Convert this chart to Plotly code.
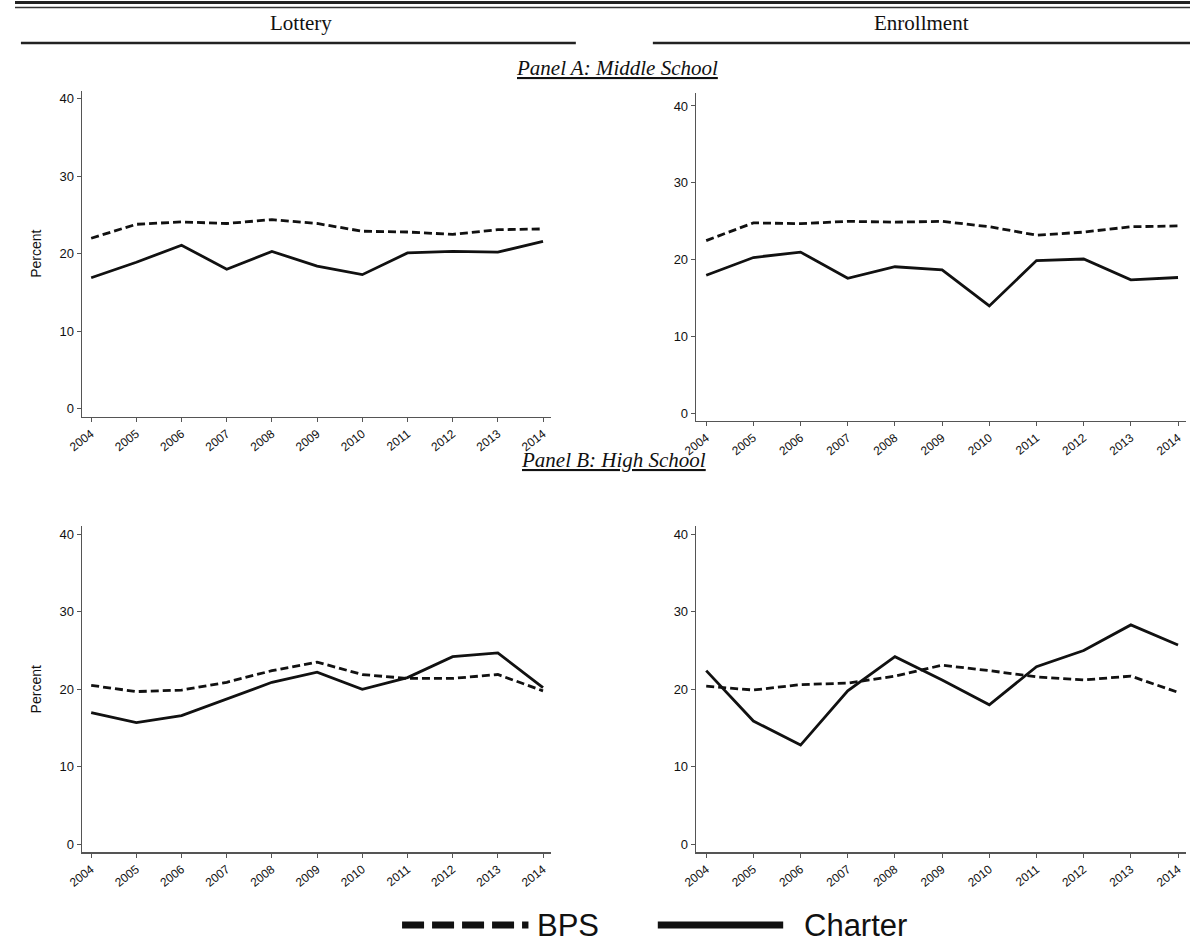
import plotly.graph_objects as go

years = [2004, 2005, 2006, 2007, 2008, 2009, 2010, 2011, 2012, 2013, 2014]
year_labels = [str(y) for y in years]

ms_lottery_bps = [22.0, 23.8, 24.1, 23.9, 24.4, 23.9, 22.9, 22.8, 22.5, 23.1, 23.2]
ms_lottery_charter = [16.9, 18.9, 21.1, 18.0, 20.3, 18.4, 17.3, 20.1, 20.3, 20.2, 21.6]
ms_enroll_bps = [22.5, 24.8, 24.7, 25.0, 24.9, 25.0, 24.3, 23.2, 23.6, 24.3, 24.4]
ms_enroll_charter = [18.0, 20.3, 21.0, 17.6, 19.1, 18.7, 14.0, 19.9, 20.1, 17.4, 17.7]
hs_lottery_bps = [20.5, 19.7, 19.9, 20.9, 22.4, 23.5, 21.9, 21.4, 21.4, 21.9, 19.8]
hs_lottery_charter = [17.0, 15.7, 16.6, 18.8, 20.9, 22.2, 20.0, 21.5, 24.2, 24.7, 20.2]
hs_enroll_bps = [20.4, 19.9, 20.6, 20.8, 21.7, 23.1, 22.4, 21.6, 21.2, 21.7, 19.6]
hs_enroll_charter = [22.4, 15.9, 12.8, 19.8, 24.2, 21.2, 18.0, 22.9, 25.0, 28.3, 25.7]

y_ticks = [0, 10, 20, 30, 40]
series_names = ["BPS", "Charter"]
col_titles = ["Lottery", "Enrollment"]
panel_titles = ["Panel A: Middle School", "Panel B: High School"]

W, H = 1190, 944


def fx(px):
    return px / W


def fy(py):
    return 1 - py / H


fig = go.Figure()

panels = [
    ("x", "y", ms_lottery_bps, ms_lottery_charter),
    ("x2", "y2", ms_enroll_bps, ms_enroll_charter),
    ("x3", "y3", hs_lottery_bps, hs_lottery_charter),
    ("x4", "y4", hs_enroll_bps, hs_enroll_charter),
]
for xa, ya, bps, charter in panels:
    fig.add_trace(go.Scatter(x=years, y=bps, mode="lines", name=series_names[0],
                             line=dict(color="#111111", width=2.8, dash="8px,4px"),
                             xaxis=xa, yaxis=ya, showlegend=False, hoverinfo="skip"))
    fig.add_trace(go.Scatter(x=years, y=charter, mode="lines", name=series_names[1],
                             line=dict(color="#111111", width=2.8),
                             xaxis=xa, yaxis=ya, showlegend=False, hoverinfo="skip"))

sans = "Arial, Liberation Sans, sans-serif"
tick_font = dict(family=sans, size=12, color="#111111")


def xax(domain, rng, anchor):
    return dict(domain=domain, range=rng, anchor=anchor, tickmode="array",
                tickvals=years, ticktext=year_labels, tickangle=-38,
                showline=True, linecolor="#555555", linewidth=1.6,
                ticks="outside", ticklen=4, tickwidth=1, tickcolor="#555555",
                showgrid=False, zeroline=False, tickfont=tick_font, fixedrange=True)


def yax(domain, rng, anchor, title=None):
    d = dict(domain=domain, range=rng, anchor=anchor, tickmode="array",
             tickvals=y_ticks, ticktext=[str(v) for v in y_ticks],
             showline=True, linecolor="#555555", linewidth=1.6,
             ticks="outside", ticklen=4, tickwidth=1, tickcolor="#555555",
             showgrid=False, zeroline=False,
             tickfont=dict(family=sans, size=13, color="#111111"),
             fixedrange=True)
    if title:
        d["title"] = dict(text=title, standoff=14,
                          font=dict(family=sans, size=14, color="#111111"))
    return d


left_x = [fx(68), fx(543)]
right_x = [fx(690), fx(1186)]
left_xr = [2003.8, 2014.18]
right_xr = [2003.79, 2014.17]

fig.update_layout(
    width=W, height=H,
    margin=dict(l=0, r=0, t=0, b=0),
    paper_bgcolor="white", plot_bgcolor="white",
    xaxis=xax(left_x, left_xr, "y"),
    yaxis=yax([fy(417), fy(91)], [-1, 41], "x", "Percent"),
    xaxis2=xax(right_x, right_xr, "y2"),
    yaxis2=yax([fy(421), fy(93)], [-0.9, 41.7], "x2"),
    xaxis3=xax(left_x, left_xr, "y3"),
    yaxis3=yax([fy(853), fy(527)], [-1, 41], "x3", "Percent"),
    xaxis4=xax(right_x, right_xr, "y4"),
    yaxis4=yax([fy(853), fy(527)], [-1, 41], "x4"),
)

shapes = []
# top double rule
shapes.append(dict(type="line", xref="paper", yref="paper", x0=0, x1=1, y0=fy(2.5), y1=fy(2.5),
                   line=dict(color="#222222", width=3)))
shapes.append(dict(type="line", xref="paper", yref="paper", x0=0, x1=1, y0=fy(7.5), y1=fy(7.5),
                   line=dict(color="#333333", width=1.5)))
# column underlines
shapes.append(dict(type="line", xref="paper", yref="paper", x0=fx(6), x1=fx(568), y0=fy(43), y1=fy(43),
                   line=dict(color="#222222", width=2.5)))
shapes.append(dict(type="line", xref="paper", yref="paper", x0=fx(646), x1=1, y0=fy(43), y1=fy(43),
                   line=dict(color="#222222", width=2.5)))
# legend samples
shapes.append(dict(type="line", xref="paper", yref="paper", x0=fx(392), x1=fx(520), y0=fy(926), y1=fy(926),
                   line=dict(color="#111111", width=7, dash="22px,8px")))
shapes.append(dict(type="line", xref="paper", yref="paper", x0=fx(651), x1=fx(778), y0=fy(926), y1=fy(926),
                   line=dict(color="#111111", width=7)))

serif = "Liberation Serif, DejaVu Serif, serif"
annotations = [
    dict(text=col_titles[0], x=fx(290), y=fy(23), xref="paper", yref="paper", showarrow=False,
         font=dict(family=serif, size=21, color="#111111"), xanchor="center", yanchor="middle"),
    dict(text=col_titles[1], x=fx(918), y=fy(23), xref="paper", yref="paper", showarrow=False,
         font=dict(family=serif, size=21, color="#111111"), xanchor="center", yanchor="middle"),
    dict(text="<i><u>" + panel_titles[0] + "</u></i>", x=fx(610), y=fy(68), xref="paper", yref="paper",
         showarrow=False, font=dict(family=serif, size=21, color="#111111"),
         xanchor="center", yanchor="middle"),
    dict(text="<i><u>" + panel_titles[1] + "</u></i>", x=fx(606), y=fy(460), xref="paper", yref="paper",
         showarrow=False, font=dict(family=serif, size=21, color="#111111"),
         xanchor="center", yanchor="middle"),
    dict(text=series_names[0], x=fx(527), y=fy(926), xref="paper", yref="paper", showarrow=False,
         font=dict(family=sans, size=31, color="#111111"),
         xanchor="left", yanchor="middle"),
    dict(text=series_names[1], x=fx(797), y=fy(926), xref="paper", yref="paper", showarrow=False,
         font=dict(family=sans, size=31, color="#111111"),
         xanchor="left", yanchor="middle"),
]

fig.update_layout(shapes=shapes, annotations=annotations)
fig.write_html("out.html", config={"displayModeBar": False, "staticPlot": True},
               post_script="document.body.style.margin='0';document.body.style.overflow='hidden';")
